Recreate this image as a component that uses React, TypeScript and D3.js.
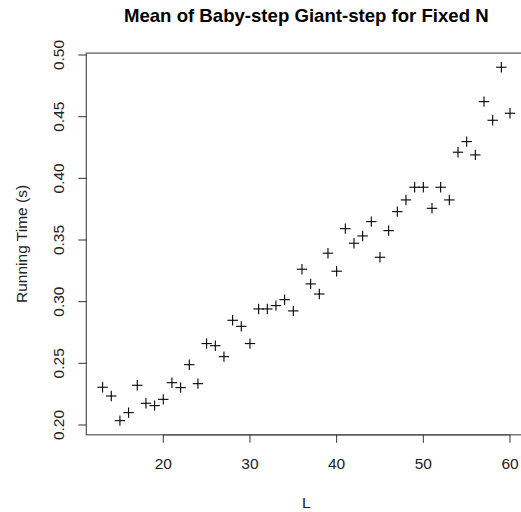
import React from "react";
import * as d3 from "d3";

// Block length L and the mean running time (seconds) measured for each
const blockSizes: number[] = [
  13, 14, 15, 16, 17, 18, 19, 20, 21, 22, 23, 24, 25, 26, 27, 28, 29, 30, 31, 32, 33, 34, 35, 36,
  37, 38, 39, 40, 41, 42, 43, 44, 45, 46, 47, 48, 49, 50, 51, 52, 53, 54, 55, 56, 57, 58, 59, 60,
];
const meanTimes: number[] = [
  0.2306, 0.2235, 0.2035, 0.21, 0.2322, 0.2176, 0.2157, 0.2208, 0.2343, 0.2303, 0.2489, 0.2335,
  0.266, 0.2643, 0.2554, 0.2849, 0.28, 0.266, 0.2941, 0.2941, 0.2968, 0.3016, 0.2925, 0.3263,
  0.3144, 0.3062, 0.3393, 0.3247, 0.3592, 0.3474, 0.3533, 0.3649, 0.336, 0.3576, 0.373, 0.3825,
  0.3928, 0.3928, 0.3757, 0.3928, 0.3825, 0.4212, 0.4298, 0.419, 0.4622, 0.4471, 0.4901, 0.4528,
];
const xTicks: number[] = [20, 30, 40, 50, 60];
const yTicks: number[] = [0.2, 0.25, 0.3, 0.35, 0.4, 0.45, 0.5];

const W = 521;
const H = 512;
const FONT = "'Liberation Sans', Arial, Helvetica, sans-serif";

// Pad the data range by 4% on each side, like R's default axis style
function padded(values: number[]): [number, number] {
  const [lo, hi] = d3.extent(values) as [number, number];
  const pad = (hi - lo) * 0.04;
  return [lo - pad, hi + pad];
}

export default function App() {
  const plotLeft = 86.3;
  const plotRight = 526.3;
  const plotTop = 53.1;
  const plotBottom = 434.8;

  const x = d3.scaleLinear().domain(padded(blockSizes)).range([plotLeft, plotRight]);
  const y = d3.scaleLinear().domain(padded(meanTimes)).range([plotBottom, plotTop]);

  const tick = 8;
  const half = 5.2;
  const points = blockSizes.map((L, i) => ({ L, t: meanTimes[i] }));
  const yMid = (plotTop + plotBottom) / 2;
  const xMid = (plotLeft + plotRight) / 2;

  return (
    <svg
      width={W}
      height={H}
      style={{ position: "absolute", left: 0, top: 0, background: "#fff" }}
      fontFamily={FONT}
    >
      <rect x={0} y={0} width={W} height={H} fill="#fff" />
      <text x={xMid} y={21.7} textAnchor="middle" fontSize={18.6} fontWeight="bold" fill="#000">
        Mean of Baby-step Giant-step for Fixed N
      </text>

      {/* plot frame */}
      <rect
        x={plotLeft}
        y={plotTop}
        width={plotRight - plotLeft}
        height={plotBottom - plotTop}
        fill="none"
        stroke="#555"
        strokeWidth={1.2}
      />

      {/* x axis */}
      <line x1={x(xTicks[0])} x2={x(xTicks[xTicks.length - 1])} y1={plotBottom} y2={plotBottom} stroke="#555" strokeWidth={1.2} />
      {xTicks.map((v) => (
        <g key={`xt${v}`}>
          <line x1={x(v)} x2={x(v)} y1={plotBottom} y2={plotBottom + tick} stroke="#333" strokeWidth={1} />
          <text x={x(v)} y={468.5} textAnchor="middle" fontSize={15.5} fill="#222">
            {v}
          </text>
        </g>
      ))}
      <text x={xMid} y={508} textAnchor="middle" fontSize={15.5} fill="#222">
        L
      </text>

      {/* y axis */}
      {yTicks.map((v) => (
        <g key={`yt${v}`}>
          <line x1={plotLeft - tick} x2={plotLeft} y1={y(v)} y2={y(v)} stroke="#333" strokeWidth={1} />
          <text
            transform={`translate(63.5,${y(v)}) rotate(-90)`}
            textAnchor="middle"
            fontSize={15.5}
            fill="#222"
          >
            {v.toFixed(2)}
          </text>
        </g>
      ))}
      <text
        transform={`translate(27,${yMid}) rotate(-90)`}
        textAnchor="middle"
        fontSize={15.5}
        fill="#222"
      >
        Running Time (s)
      </text>

      {/* plus-sign markers */}
      <g stroke="#000" strokeWidth={1.1}>
        {points.map((p) => {
          const cx = x(p.L);
          const cy = y(p.t);
          return (
            <g key={`p${p.L}`}>
              <line x1={cx - half} x2={cx + half} y1={cy} y2={cy} />
              <line x1={cx} x2={cx} y1={cy - half} y2={cy + half} />
            </g>
          );
        })}
      </g>
    </svg>
  );
}
